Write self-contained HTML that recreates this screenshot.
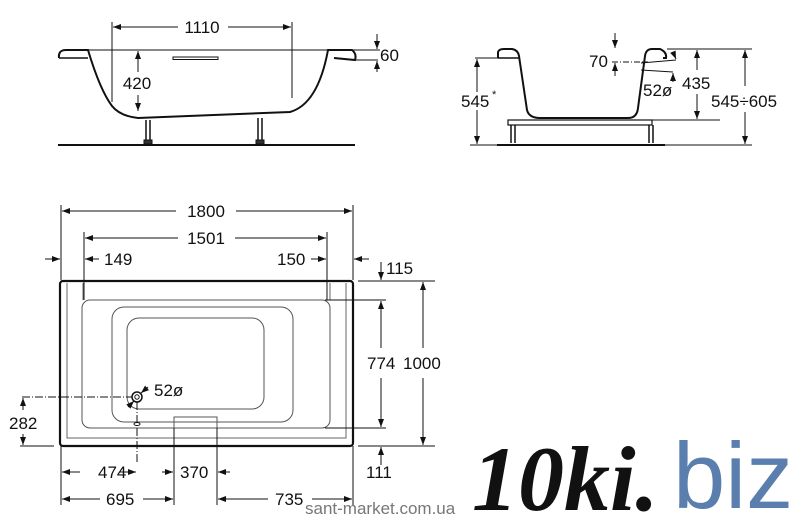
<!DOCTYPE html>
<html><head><meta charset="utf-8"><style>
html,body{margin:0;padding:0;background:#fff;}
svg{display:block;}
text{font-family:"Liberation Sans",sans-serif;fill:#111;}
</style></head><body>
<svg width="800" height="523" viewBox="0 0 800 523" xmlns="http://www.w3.org/2000/svg">
<defs>
<marker id="a" markerWidth="8" markerHeight="6" refX="8" refY="3" orient="auto" markerUnits="userSpaceOnUse"><path d="M0,0 L8,3 L0,6 z" fill="#111"/></marker>
</defs>
<g stroke="#111" fill="none" stroke-width="1">
<path d="M59,58 Q58,50 66,50 L88,50 Q100,90 112,106 Q120,116 138,118 L290,112 Q318,104 328,50 L352,50 Q357,54 355,60 L334,58" stroke-width="2" fill="#fff"/>
<path d="M59,58 L88,58" stroke-width="1.5"/>
<rect x="173" y="57" width="45" height="2.5" stroke-width="1"/>
<line x1="58" y1="145" x2="355" y2="145" stroke-width="2"/>
<path d="M146,120 v22 M150,120 v22 M258,118 v24 M262,118 v24" stroke-width="1.5"/>
<rect x="144" y="140" width="8" height="4" fill="#333"/><rect x="256" y="140" width="8" height="4" fill="#333"/>
<line x1="88" y1="50" x2="380" y2="50"/>
<line x1="356" y1="60" x2="378" y2="60"/>
<line x1="112" y1="22" x2="112" y2="102"/><line x1="292" y1="22" x2="292" y2="98"/>
<line x1="178" y1="27" x2="113" y2="27" marker-end="url(#a)"/><line x1="228" y1="27" x2="291" y2="27" marker-end="url(#a)"/>
<line x1="377" y1="34" x2="377" y2="49" marker-end="url(#a)"/><line x1="377" y1="72" x2="377" y2="61" marker-end="url(#a)"/>
<line x1="138" y1="72" x2="138" y2="51" marker-end="url(#a)"/><line x1="138" y1="95" x2="138" y2="111" marker-end="url(#a)"/>
<path d="M498,58 L498,52 Q499,49 504,49 L512,49 Q518,50 519,56 L527,110 Q529,118 540,118 L628,118 Q637,118 638,108 L645,56 Q646,49 652,49 L660,49 Q667,52 666,58 L663,58" stroke-width="2" fill="#fff"/>
<line x1="498" y1="58" x2="519" y2="58" stroke-width="1.5"/>
<rect x="508" y="120" width="144" height="5" stroke-width="1.2"/>
<path d="M511,125 v18 M515,125 v18 M649,125 v18 M653,125 v18" stroke-width="1.5"/>
<line x1="497" y1="145" x2="665" y2="145" stroke-width="2"/>
<line x1="667" y1="49" x2="752" y2="49"/>
<line x1="475" y1="58" x2="498" y2="58"/><line x1="470" y1="145" x2="497" y2="145"/><line x1="665" y1="145" x2="752" y2="145"/>
<line x1="640" y1="120" x2="720" y2="120"/>
<line x1="477" y1="92" x2="477" y2="59" marker-end="url(#a)"/><line x1="477" y1="110" x2="477" y2="144" marker-end="url(#a)"/>
<line x1="697" y1="70" x2="697" y2="50" marker-end="url(#a)"/><line x1="697" y1="94" x2="697" y2="119" marker-end="url(#a)"/>
<line x1="745" y1="86" x2="745" y2="50" marker-end="url(#a)"/><line x1="745" y1="112" x2="745" y2="144" marker-end="url(#a)"/>
<line x1="615" y1="33" x2="615" y2="48" marker-end="url(#a)"/><line x1="615" y1="76" x2="615" y2="63" marker-end="url(#a)"/>
<line x1="612" y1="62" x2="648" y2="62" stroke-dasharray="6,2,1,2"/>
<line x1="641" y1="63" x2="676" y2="60"/><line x1="641" y1="70" x2="673" y2="72"/>
<line x1="673" y1="52" x2="676" y2="59" marker-end="url(#a)"/>
<line x1="673" y1="82" x2="673" y2="73" marker-end="url(#a)"/>
<rect x="60" y="281" width="293" height="165" rx="3" stroke-width="2.2"/>
<path d="M67,283 V438 H346 V283" stroke="#666"/>
<path d="M83,283 V300 M330,283 V300" stroke="#666"/>
<rect x="82" y="300" width="248" height="128" rx="8" stroke="#555"/>
<rect x="112" y="307" width="181" height="115" rx="12" stroke="#555"/>
<rect x="127" y="318" width="137" height="91" rx="12" stroke="#555"/>
<rect x="174" y="417" width="43" height="11" stroke="#555"/>
<circle cx="137" cy="397" r="5" stroke-width="1.5"/><circle cx="137" cy="397" r="2.2"/>
<ellipse cx="137" cy="424" rx="3" ry="1.5"/>
<line x1="22" y1="397" x2="132" y2="397" stroke-dasharray="8,2,1,2"/>
<line x1="137" y1="402" x2="137" y2="462" stroke-dasharray="8,2,1,2"/>
<line x1="128" y1="407" x2="134" y2="401" marker-end="url(#a)"/><line x1="148" y1="387" x2="141" y2="393" marker-end="url(#a)"/>
<line x1="61" y1="205" x2="61" y2="280"/><line x1="353" y1="205" x2="353" y2="280"/>
<line x1="84" y1="232" x2="84" y2="300"/><line x1="327" y1="232" x2="327" y2="300"/>
<line x1="176" y1="211" x2="62" y2="211" marker-end="url(#a)"/><line x1="236" y1="211" x2="352" y2="211" marker-end="url(#a)"/>
<line x1="178" y1="238" x2="85" y2="238" marker-end="url(#a)"/><line x1="235" y1="238" x2="326" y2="238" marker-end="url(#a)"/>
<line x1="45" y1="259" x2="60" y2="259" marker-end="url(#a)"/><line x1="99" y1="259" x2="85" y2="259" marker-end="url(#a)"/>
<line x1="311" y1="259" x2="326" y2="259" marker-end="url(#a)"/><line x1="369" y1="259" x2="354" y2="259" marker-end="url(#a)"/>
<line x1="358" y1="281" x2="435" y2="281"/><line x1="358" y1="446" x2="435" y2="446"/>
<line x1="325" y1="300" x2="386" y2="300"/><line x1="325" y1="428" x2="386" y2="428"/>
<line x1="381" y1="262" x2="381" y2="280" marker-end="url(#a)"/>
<line x1="381" y1="348" x2="381" y2="301" marker-end="url(#a)"/><line x1="381" y1="378" x2="381" y2="427" marker-end="url(#a)"/>
<line x1="423" y1="348" x2="423" y2="282" marker-end="url(#a)"/><line x1="423" y1="378" x2="423" y2="445" marker-end="url(#a)"/>
<line x1="381" y1="465" x2="381" y2="447" marker-end="url(#a)"/>
<line x1="20" y1="446" x2="54" y2="446"/>
<line x1="23" y1="410" x2="23" y2="398" marker-end="url(#a)"/><line x1="23" y1="434" x2="23" y2="445" marker-end="url(#a)"/>
<line x1="61" y1="446" x2="61" y2="505"/><line x1="353" y1="446" x2="353" y2="505"/>
<line x1="174" y1="428" x2="174" y2="505"/><line x1="217" y1="428" x2="217" y2="505"/>
<line x1="80" y1="472" x2="62" y2="472" marker-end="url(#a)"/><line x1="120" y1="472" x2="136" y2="472" marker-end="url(#a)"/>
<line x1="162" y1="472" x2="173" y2="472" marker-end="url(#a)"/><line x1="230" y1="472" x2="218" y2="472" marker-end="url(#a)"/>
<line x1="100" y1="499" x2="62" y2="499" marker-end="url(#a)"/><line x1="143" y1="499" x2="173" y2="499" marker-end="url(#a)"/>
<line x1="268" y1="499" x2="218" y2="499" marker-end="url(#a)"/><line x1="312" y1="499" x2="352" y2="499" marker-end="url(#a)"/>
</g>
<g font-size="17">
<text x="202" y="33" text-anchor="middle">1110</text>
<text x="380" y="61">60</text>
<text x="137" y="89" text-anchor="middle">420</text>
<text x="461" y="107">545</text><text x="492" y="98" font-size="11">*</text>
<text x="589" y="67">70</text>
<text x="643" y="96">52ø</text>
<text x="682" y="89">435</text>
<text x="711" y="107">545÷605</text>
<text x="206" y="217" text-anchor="middle">1800</text>
<text x="206" y="244" text-anchor="middle">1501</text>
<text x="104" y="265">149</text>
<text x="277" y="265">150</text>
<text x="386" y="274">115</text>
<text x="367" y="369">774</text>
<text x="403" y="369">1000</text>
<text x="154" y="396">52ø</text>
<text x="9" y="429">282</text>
<text x="98" y="478">474</text>
<text x="180" y="478">370</text>
<text x="366" y="478">111</text>
<text x="106" y="505">695</text>
<text x="275" y="505">735</text>
</g>
<text x="305" y="514" font-size="17" style="fill:#777">sant-market.com.ua</text>
<text x="472" y="510" font-size="92" font-style="italic" font-weight="bold" style="font-family:'Liberation Serif',serif;fill:#111">10ki.</text>
<text x="673" y="508" font-size="94" style="fill:#5a7fae">biz</text>
</svg>
</body></html>
